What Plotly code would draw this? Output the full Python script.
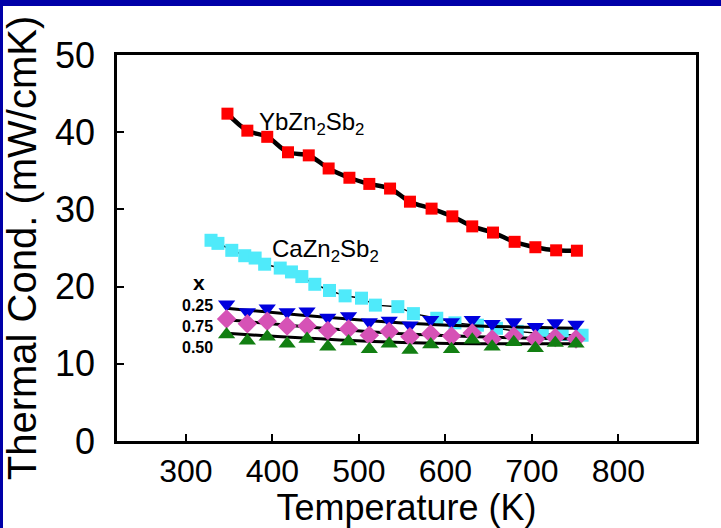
import plotly.graph_objects as go

# ---- data ----
T_yb = [348, 371, 394, 418, 442, 465, 489, 512, 536, 559, 584, 608, 631, 655, 680, 704, 728, 752]
k_yb = [42.4, 40.2, 39.4, 37.4, 37.0, 35.3, 34.1, 33.3, 32.7, 31.0, 30.1, 29.1, 27.8, 27.0, 25.8, 25.1, 24.7, 24.65]

T_ca = [329, 337, 353, 368, 380, 391, 409, 422, 434, 449, 466, 484, 503, 519, 545, 563, 590, 611, 637, 659, 683, 712, 735, 758]
k_ca = [26.0, 25.6, 24.7, 24.0, 23.7, 22.9, 22.4, 21.9, 21.3, 20.3, 19.5, 18.8, 18.5, 17.6, 17.4, 16.5, 15.9, 15.3, 15.0, 14.6, 14.2, 13.9, 13.8, 13.7]

T_x = [347, 371, 394, 417, 440, 464, 488, 512, 535, 559, 583, 607, 631, 654, 679, 704, 727, 751]
k_025 = [17.7, 16.7, 17.2, 16.7, 16.8, 16.0, 16.2, 15.4, 15.6, 15.0, 15.7, 15.4, 15.7, 15.2, 15.4, 14.8, 15.3, 15.1]
k_075 = [15.8, 15.2, 15.5, 14.9, 14.9, 14.3, 14.5, 13.7, 14.2, 13.5, 13.9, 13.6, 14.0, 13.2, 13.6, 13.2, 13.4, 13.2]
k_050 = [13.8, 13.0, 13.5, 12.6, 13.2, 12.2, 12.9, 11.9, 12.6, 11.8, 12.5, 11.9, 13.1, 12.2, 12.8, 12.0, 12.7, 12.6]

T_fit = [347, 550, 752]
fit_025 = [17.2, 15.3, 14.6]
fit_075 = [15.7, 13.9, 13.2]
fit_050 = [13.95, 12.75, 12.6]

x_ticks = [300, 400, 500, 600, 700, 800]
y_ticks = [0, 10, 20, 30, 40, 50]
x_labels = ["0.25", "0.75", "0.50"]

ARIAL = "Liberation Sans, Arial, sans-serif"

fig = go.Figure()

# CaZn2Sb2 (cyan) with thin connecting line
fig.add_trace(go.Scatter(x=T_ca, y=k_ca, mode="lines+markers",
                         line=dict(color="black", width=1.5),
                         marker=dict(symbol="square", size=13, color="#4FEAFA"),
                         name="CaZn2Sb2"))

# fit lines for alloy series
for fy_ in (fit_025, fit_075, fit_050):
    fig.add_trace(go.Scatter(x=T_fit, y=fy_, mode="lines",
                             line=dict(color="black", width=3, shape="spline"),
                             hoverinfo="skip"))

fig.add_trace(go.Scatter(x=T_x, y=k_025, mode="markers",
                         marker=dict(symbol="triangle-down", size=15, color="#0000DD"),
                         name="x=0.25"))
fig.add_trace(go.Scatter(x=T_x, y=k_075, mode="markers",
                         marker=dict(symbol="diamond", size=15, color="#D652B6"),
                         name="x=0.75"))
fig.add_trace(go.Scatter(x=T_x, y=k_050, mode="markers",
                         marker=dict(symbol="triangle-up", size=15, color="#127F12"),
                         name="x=0.50"))

# YbZn2Sb2 (red) with thick black smooth line
fig.add_trace(go.Scatter(x=T_yb, y=k_yb, mode="lines+markers",
                         line=dict(color="black", width=4.5, shape="spline"),
                         marker=dict(symbol="square", size=12, color="#FF0000"),
                         name="YbZn2Sb2"))


def px2x(px):
    return 220.3 + (px - 117) / 0.866


def py2y(py):
    return (441 - py) / 7.72


annots = [
    dict(text="YbZn<sub>2</sub>Sb<sub>2</sub>", px=257, py=123, size=24),
    dict(text="CaZn<sub>2</sub>Sb<sub>2</sub>", px=270, py=250, size=24),
]
for a in annots:
    fig.add_annotation(x=px2x(a["px"]), y=py2y(a["py"]), xref="x", yref="y",
                       text=a["text"], showarrow=False, xanchor="left", yanchor="middle",
                       font=dict(family=ARIAL, size=a["size"], color="black"))

fig.add_annotation(x=px2x(199), y=py2y(282), xref="x", yref="y", text="<b>x</b>",
                   showarrow=False, xanchor="center", yanchor="middle",
                   font=dict(family=ARIAL, size=21, color="black"))
for lab, py in zip(x_labels, [305, 326, 347]):
    fig.add_annotation(x=px2x(198), y=py2y(py), xref="x", yref="y", text="<b>" + lab + "</b>",
                       showarrow=False, xanchor="center", yanchor="middle",
                       font=dict(family=ARIAL, size=16, color="black"))

# ---- blue frame of the slide ----
W, H = 721, 528
L, R, Tm, B = 117, 25, 55, 87
pw, ph = W - L - R, H - Tm - B


def fx(px):
    return (px - L) / pw


def fy(py):
    return (H - B - py) / ph


fig.add_shape(type="rect", xref="paper", yref="paper", x0=fx(0), x1=fx(W), y0=fy(6), y1=fy(0),
              fillcolor="#0000A8", line=dict(width=0), layer="above")
fig.add_shape(type="rect", xref="paper", yref="paper", x0=fx(0), x1=fx(3), y0=fy(H), y1=fy(0),
              fillcolor="#0000A8", line=dict(width=0), layer="above")

fig.update_layout(
    width=W, height=H,
    margin=dict(l=L, r=R, t=Tm, b=B),
    paper_bgcolor="white", plot_bgcolor="white",
    showlegend=False,
    xaxis=dict(range=[220.3, 889.7], tickvals=x_ticks, ticks="inside", ticklen=7, tickwidth=2,
               tickcolor="black", showline=True, linecolor="black", linewidth=2.5, mirror=True,
               showgrid=False, zeroline=False, ticklabelstandoff=0,
               tickfont=dict(family=ARIAL, size=32, color="black"),
               title=dict(text="Temperature (K)", standoff=4,
                          font=dict(family=ARIAL, size=36, color="black")),
               automargin=False),
    yaxis=dict(range=[0, 50], tickvals=y_ticks, ticks="inside", ticklen=7, tickwidth=2,
               tickcolor="black", showline=True, linecolor="black", linewidth=2.5, mirror=True,
               showgrid=False, zeroline=False, ticklabelstandoff=12,
               tickfont=dict(family=ARIAL, size=36, color="black"),
               title=dict(text="Thermal Cond. (mW/cmK)", standoff=8,
                          font=dict(family=ARIAL, size=40, color="black")),
               automargin=False),
)

fig.write_html("out.html")
